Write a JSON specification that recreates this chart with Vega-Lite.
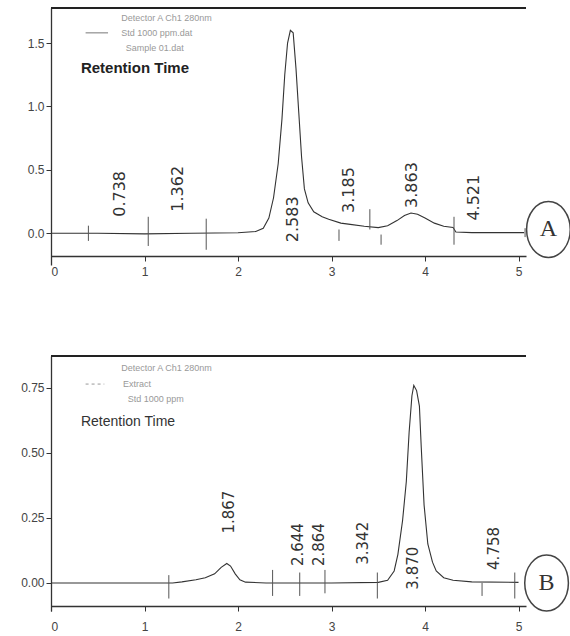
{
  "$schema": "https://vega.github.io/schema/vega-lite/v6.json",
  "background": "white",
  "padding": {"left": 20, "top": 7, "right": 0, "bottom": 0},
  "spacing": 78,
  "config": {
    "view": {"stroke": null},
    "axis": {"grid": false, "domainColor": "#333", "domainWidth": 1.3, "tickColor": "#333", "labelColor": "#444", "labelFont": "Liberation Sans", "labelFontSize": 12, "tickSize": 5}
  },
  "datasets": {
    "curveA": [
      {"t": 0, "v": 0}, {"t": 0.5, "v": 0.0}, {"t": 1.0, "v": -0.005}, {"t": 1.5, "v": 0.0}, {"t": 2.0, "v": 0.004},
      {"t": 2.19, "v": 0.014}, {"t": 2.27, "v": 0.04}, {"t": 2.33, "v": 0.12}, {"t": 2.38, "v": 0.28}, {"t": 2.43, "v": 0.55},
      {"t": 2.47, "v": 0.9}, {"t": 2.5, "v": 1.25}, {"t": 2.53, "v": 1.5}, {"t": 2.56, "v": 1.6}, {"t": 2.59, "v": 1.58},
      {"t": 2.62, "v": 1.3}, {"t": 2.65, "v": 0.95}, {"t": 2.68, "v": 0.6}, {"t": 2.71, "v": 0.35}, {"t": 2.75, "v": 0.24},
      {"t": 2.81, "v": 0.17}, {"t": 2.9, "v": 0.13}, {"t": 2.97, "v": 0.11}, {"t": 3.1, "v": 0.08}, {"t": 3.2, "v": 0.07},
      {"t": 3.35, "v": 0.055}, {"t": 3.5, "v": 0.045}, {"t": 3.6, "v": 0.06}, {"t": 3.7, "v": 0.1}, {"t": 3.78, "v": 0.14},
      {"t": 3.85, "v": 0.16}, {"t": 3.92, "v": 0.15}, {"t": 4.0, "v": 0.12}, {"t": 4.1, "v": 0.08}, {"t": 4.2, "v": 0.055},
      {"t": 4.3, "v": 0.045}, {"t": 4.33, "v": 0.01}, {"t": 4.5, "v": 0.005}, {"t": 5.06, "v": 0.005}
    ],
    "peaksA": [
      {"t": 0.738, "ly": 0.13, "label": "0.738"},
      {"t": 1.362, "ly": 0.17, "label": "1.362"},
      {"t": 2.583, "ly": -0.07, "label": "2.583"},
      {"t": 3.185, "ly": 0.16, "label": "3.185"},
      {"t": 3.863, "ly": 0.2, "label": "3.863"},
      {"t": 4.521, "ly": 0.1, "label": "4.521"}
    ],
    "ticksA": [
      {"t": 0.4, "lo": -0.06, "hi": 0.06},
      {"t": 1.04, "lo": -0.1, "hi": 0.13},
      {"t": 1.66, "lo": -0.13, "hi": 0.115},
      {"t": 3.08, "lo": -0.06, "hi": 0.03},
      {"t": 3.41, "lo": 0.03, "hi": 0.19},
      {"t": 3.53, "lo": -0.09, "hi": -0.01},
      {"t": 4.31, "lo": -0.09, "hi": 0.13},
      {"t": 5.07, "lo": -0.03, "hi": 0.04}
    ],
    "legendA": [
      {"t": 0.75, "v": 1.7, "text": "Detector A Ch1 280nm"},
      {"t": 0.75, "v": 1.58, "text": "Std 1000 ppm.dat"},
      {"t": 0.8, "v": 1.46, "text": "Sample 01.dat"}
    ],
    "curveB": [
      {"t": 0, "v": 0}, {"t": 0.6, "v": 0.0}, {"t": 1.3, "v": 0.0}, {"t": 1.4, "v": 0.004}, {"t": 1.55, "v": 0.012},
      {"t": 1.65, "v": 0.02}, {"t": 1.75, "v": 0.035}, {"t": 1.82, "v": 0.06}, {"t": 1.88, "v": 0.075}, {"t": 1.92, "v": 0.065},
      {"t": 1.97, "v": 0.035}, {"t": 2.02, "v": 0.012}, {"t": 2.08, "v": 0.003}, {"t": 2.3, "v": 0.0}, {"t": 3.0, "v": 0.0},
      {"t": 3.5, "v": 0.002}, {"t": 3.6, "v": 0.01}, {"t": 3.67, "v": 0.046}, {"t": 3.71, "v": 0.11}, {"t": 3.76, "v": 0.24},
      {"t": 3.8, "v": 0.39}, {"t": 3.83, "v": 0.58}, {"t": 3.86, "v": 0.72}, {"t": 3.88, "v": 0.76}, {"t": 3.91, "v": 0.74},
      {"t": 3.94, "v": 0.68}, {"t": 3.96, "v": 0.52}, {"t": 3.99, "v": 0.3}, {"t": 4.03, "v": 0.15}, {"t": 4.08, "v": 0.08},
      {"t": 4.12, "v": 0.046}, {"t": 4.2, "v": 0.02}, {"t": 4.3, "v": 0.01}, {"t": 4.5, "v": 0.004}, {"t": 5.0, "v": 0.002}
    ],
    "peaksB": [
      {"t": 1.9, "ly": 0.19, "label": "1.867"},
      {"t": 2.644, "ly": 0.065, "label": "2.644"},
      {"t": 2.864, "ly": 0.065, "label": "2.864"},
      {"t": 3.342, "ly": 0.07, "label": "3.342"},
      {"t": 3.87, "ly": -0.026, "label": "3.870"},
      {"t": 4.74, "ly": 0.05, "label": "4.758"}
    ],
    "ticksB": [
      {"t": 1.26, "lo": -0.06, "hi": 0.03},
      {"t": 2.37, "lo": -0.05, "hi": 0.05},
      {"t": 2.66, "lo": -0.05, "hi": 0.04},
      {"t": 2.93, "lo": -0.04, "hi": 0.05},
      {"t": 3.49, "lo": -0.06, "hi": 0.04},
      {"t": 4.61, "lo": -0.05, "hi": 0.0},
      {"t": 4.96, "lo": -0.06, "hi": 0.04}
    ],
    "legendB": [
      {"t": 0.75, "v": 0.827, "text": "Detector A Ch1 280nm"},
      {"t": 0.77, "v": 0.765, "text": "Extract"},
      {"t": 0.82, "v": 0.708, "text": "Std 1000 ppm"}
    ]
  },
  "vconcat": [
    {
      "width": 475,
      "height": 257,
      "layer": [
        {
          "data": {"name": "curveA"},
          "mark": {"type": "line", "color": "#333", "strokeWidth": 1.1},
          "encoding": {
            "x": {"field": "t", "type": "quantitative", "title": null, "scale": {"domain": [0, 5.08], "nice": false, "zero": false}, "axis": {"values": [0, 1, 2, 3, 4, 5], "format": "d", "offset": -9, "labelPadding": 5}},
            "y": {"field": "v", "type": "quantitative", "title": null, "scale": {"domain": [-0.25, 1.776], "nice": false, "zero": false}, "axis": {"values": [0, 0.5, 1, 1.5], "format": ".1f"}}
          }
        },
        {
          "data": {"name": "ticksA"},
          "mark": {"type": "rule", "color": "#555", "strokeWidth": 1},
          "encoding": {
            "x": {"field": "t", "type": "quantitative", "title": null},
            "y": {"field": "lo", "type": "quantitative", "title": null},
            "y2": {"field": "hi"}
          }
        },
        {
          "data": {"name": "peaksA"},
          "mark": {"type": "text", "angle": 270, "align": "left", "baseline": "middle", "font": "DejaVu Sans", "fontSize": 16, "color": "#333"},
          "encoding": {
            "x": {"field": "t", "type": "quantitative", "title": null},
            "y": {"field": "ly", "type": "quantitative", "title": null},
            "text": {"field": "label"}
          }
        },
        {
          "data": {"values": [{"a": 0, "b": 5.08, "y": 1.776}]},
          "mark": {"type": "rule", "color": "#222", "strokeWidth": 2},
          "encoding": {
            "x": {"field": "a", "type": "quantitative", "title": null},
            "x2": {"field": "b"},
            "y": {"field": "y", "type": "quantitative", "title": null}
          }
        },
        {
          "data": {"values": [{"a": 0.37, "b": 0.61, "y": 1.58}]},
          "mark": {"type": "rule", "color": "#777", "strokeWidth": 1},
          "encoding": {
            "x": {"field": "a", "type": "quantitative", "title": null},
            "x2": {"field": "b"},
            "y": {"field": "y", "type": "quantitative", "title": null}
          }
        },
        {
          "data": {"name": "legendA"},
          "mark": {"type": "text", "align": "left", "baseline": "middle", "font": "Liberation Sans", "fontSize": 9, "color": "#999"},
          "encoding": {
            "x": {"field": "t", "type": "quantitative", "title": null},
            "y": {"field": "v", "type": "quantitative", "title": null},
            "text": {"field": "text"}
          }
        },
        {
          "data": {"values": [{"t": 0.32, "v": 1.3, "text": "Retention Time"}]},
          "mark": {"type": "text", "align": "left", "baseline": "middle", "font": "Liberation Sans", "fontSize": 15, "fontWeight": "bold", "color": "#222"},
          "encoding": {
            "x": {"field": "t", "type": "quantitative", "title": null},
            "y": {"field": "v", "type": "quantitative", "title": null},
            "text": {"field": "text"}
          }
        },
        {
          "data": {"values": [{"t": 5.32, "v": 0.03, "text": "A"}]},
          "layer": [
            {
              "mark": {"type": "point", "shape": "M-0.78,0A0.78,1,0,1,1,0.78,0A0.78,1,0,1,1,-0.78,0Z", "size": 3136, "filled": false, "stroke": "#444", "strokeWidth": 1.5, "opacity": 1},
              "encoding": {
                "x": {"field": "t", "type": "quantitative", "title": null},
                "y": {"field": "v", "type": "quantitative", "title": null}
              }
            },
            {
              "mark": {"type": "text", "align": "center", "baseline": "middle", "font": "Liberation Serif", "fontSize": 24, "color": "#333"},
              "encoding": {
                "x": {"field": "t", "type": "quantitative", "title": null},
                "y": {"field": "v", "type": "quantitative", "title": null},
                "text": {"field": "text"}
              }
            }
          ]
        }
      ]
    },
    {
      "width": 475,
      "height": 255,
      "layer": [
        {
          "data": {"name": "curveB"},
          "mark": {"type": "line", "color": "#333", "strokeWidth": 1.1},
          "encoding": {
            "x": {"field": "t", "type": "quantitative", "title": null, "scale": {"domain": [0, 5.08], "nice": false, "zero": false}, "axis": {"values": [0, 1, 2, 3, 4, 5], "format": "d", "offset": -5, "labelPadding": 10}},
            "y": {"field": "v", "type": "quantitative", "title": null, "scale": {"domain": [-0.108, 0.873], "nice": false, "zero": false}, "axis": {"values": [0, 0.25, 0.5, 0.75], "format": ".2f"}}
          }
        },
        {
          "data": {"name": "ticksB"},
          "mark": {"type": "rule", "color": "#555", "strokeWidth": 1},
          "encoding": {
            "x": {"field": "t", "type": "quantitative", "title": null},
            "y": {"field": "lo", "type": "quantitative", "title": null},
            "y2": {"field": "hi"}
          }
        },
        {
          "data": {"name": "peaksB"},
          "mark": {"type": "text", "angle": 270, "align": "left", "baseline": "middle", "font": "DejaVu Sans", "fontSize": 15, "color": "#333"},
          "encoding": {
            "x": {"field": "t", "type": "quantitative", "title": null},
            "y": {"field": "ly", "type": "quantitative", "title": null},
            "text": {"field": "label"}
          }
        },
        {
          "data": {"values": [{"a": 0, "b": 5.08, "y": 0.873}]},
          "mark": {"type": "rule", "color": "#222", "strokeWidth": 2},
          "encoding": {
            "x": {"field": "a", "type": "quantitative", "title": null},
            "x2": {"field": "b"},
            "y": {"field": "y", "type": "quantitative", "title": null}
          }
        },
        {
          "data": {"values": [{"a": 0.37, "b": 0.57, "y": 0.765}]},
          "mark": {"type": "rule", "color": "#999", "strokeWidth": 1, "strokeDash": [3, 3]},
          "encoding": {
            "x": {"field": "a", "type": "quantitative", "title": null},
            "x2": {"field": "b"},
            "y": {"field": "y", "type": "quantitative", "title": null}
          }
        },
        {
          "data": {"name": "legendB"},
          "mark": {"type": "text", "align": "left", "baseline": "middle", "font": "Liberation Sans", "fontSize": 9, "color": "#999"},
          "encoding": {
            "x": {"field": "t", "type": "quantitative", "title": null},
            "y": {"field": "v", "type": "quantitative", "title": null},
            "text": {"field": "text"}
          }
        },
        {
          "data": {"values": [{"t": 0.32, "v": 0.62, "text": "Retention Time"}]},
          "mark": {"type": "text", "align": "left", "baseline": "middle", "font": "Liberation Sans", "fontSize": 14, "color": "#333"},
          "encoding": {
            "x": {"field": "t", "type": "quantitative", "title": null},
            "y": {"field": "v", "type": "quantitative", "title": null},
            "text": {"field": "text"}
          }
        },
        {
          "data": {"values": [{"t": 5.3, "v": 0.0, "text": "B"}]},
          "layer": [
            {
              "mark": {"type": "point", "shape": "M-0.78,0A0.78,1,0,1,1,0.78,0A0.78,1,0,1,1,-0.78,0Z", "size": 3136, "filled": false, "stroke": "#444", "strokeWidth": 1.5, "opacity": 1},
              "encoding": {
                "x": {"field": "t", "type": "quantitative", "title": null},
                "y": {"field": "v", "type": "quantitative", "title": null}
              }
            },
            {
              "mark": {"type": "text", "align": "center", "baseline": "middle", "font": "Liberation Serif", "fontSize": 24, "color": "#333"},
              "encoding": {
                "x": {"field": "t", "type": "quantitative", "title": null},
                "y": {"field": "v", "type": "quantitative", "title": null},
                "text": {"field": "text"}
              }
            }
          ]
        }
      ]
    }
  ]
}
